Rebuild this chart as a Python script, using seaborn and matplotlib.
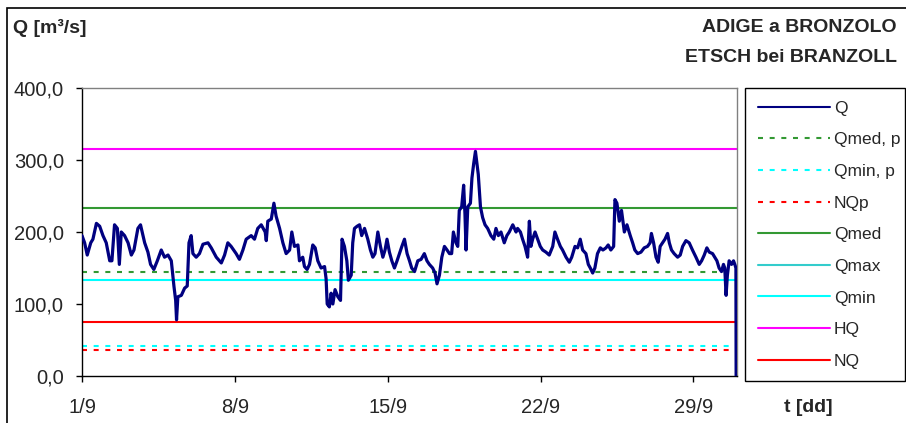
import numpy as np
import pandas as pd
import matplotlib
matplotlib.use("Agg")
import matplotlib.pyplot as plt
import seaborn as sns
from matplotlib.lines import Line2D
from matplotlib.patches import Rectangle

# --- data ---
days = [0.00, 0.12, 0.24, 0.40, 0.50, 0.66, 0.81, 0.96, 1.11, 1.27, 1.37, 1.49, 1.62, 1.71, 1.80, 1.95,
        2.11, 2.26, 2.38, 2.56, 2.68, 2.87, 3.02, 3.14, 3.29, 3.45, 3.63, 3.78, 3.94, 4.09, 4.21, 4.29,
        4.33, 4.39, 4.55, 4.70, 4.82, 4.90, 5.00, 5.08, 5.23, 5.38, 5.54, 5.77, 5.92, 6.15, 6.38, 6.53,
        6.68, 6.83, 7.06, 7.21, 7.37, 7.52, 7.75, 7.90, 8.05, 8.21, 8.39, 8.44, 8.51, 8.67, 8.79, 8.89,
        9.05, 9.20, 9.35, 9.51, 9.61, 9.73, 9.89, 9.96, 10.11, 10.19, 10.31, 10.42, 10.57, 10.68, 10.80,
        10.95, 11.11, 11.18, 11.23, 11.33, 11.41, 11.49, 11.59, 11.72, 11.84, 11.91, 12.02, 12.13, 12.20,
        12.33, 12.40, 12.48, 12.60, 12.71, 12.81, 12.94, 13.09, 13.21, 13.32, 13.42, 13.55, 13.67, 13.78,
        13.88, 13.97, 14.08, 14.19, 14.31, 14.43, 14.54, 14.65, 14.77, 14.89, 15.00, 15.10, 15.23, 15.38,
        15.53, 15.68, 15.80, 15.91, 16.06, 16.17, 16.26, 16.37, 16.48, 16.60, 16.72, 16.83, 16.93, 17.01,
        17.13, 17.21, 17.28, 17.39, 17.48, 17.54, 17.59, 17.67, 17.79, 17.86, 17.94, 18.02, 18.09, 18.15,
        18.25, 18.35, 18.46, 18.58, 18.73, 18.86, 18.96, 19.07, 19.19, 19.34, 19.46, 19.57, 19.73, 19.88,
        19.95, 20.08, 20.18, 20.29, 20.41, 20.49, 20.56, 20.64, 20.75, 20.87, 20.99, 21.10, 21.25, 21.40,
        21.56, 21.66, 21.78, 21.91, 22.01, 22.17, 22.32, 22.43, 22.58, 22.70, 22.82, 22.93, 23.08, 23.19,
        23.28, 23.39, 23.49, 23.61, 23.74, 23.86, 24.00, 24.10, 24.22, 24.35, 24.41, 24.50, 24.61, 24.71,
        24.84, 24.96, 25.11, 25.22, 25.32, 25.45, 25.60, 25.75, 25.90, 26.02, 26.08, 26.18, 26.29, 26.39,
        26.48, 26.59, 26.70, 26.82, 26.90, 27.00, 27.12, 27.28, 27.40, 27.51, 27.66, 27.81, 27.96, 28.12,
        28.27, 28.38, 28.50, 28.62, 28.73, 28.88, 28.98, 29.08, 29.18, 29.29, 29.38, 29.44, 29.50, 29.56,
        29.64, 29.75, 29.84, 29.90, 29.95, 29.96]
q = [195, 185, 168, 185, 190, 212, 208, 195, 185, 160, 160, 210, 205, 155, 200, 195,
     185, 168, 175, 205, 210, 185, 172, 155, 148, 160, 175, 165, 168, 160, 125, 105,
     78, 110, 112, 122, 125, 185, 195, 170, 165, 170, 183, 185, 178, 165, 157, 168,
     185, 180, 170, 162, 175, 190, 195, 190, 205, 210, 200, 188, 215, 218, 240, 222,
     205, 185, 170, 175, 200, 180, 182, 160, 165, 152, 148, 155, 182, 178, 160,
     150, 152, 135, 100, 96, 115, 100, 120, 110, 105, 190, 180, 160, 133,
     140, 185, 205, 208, 210, 195, 205, 190, 175, 165, 170, 200, 180, 165,
     175, 190, 172, 160, 150, 160, 170, 180, 190, 170, 160, 150, 145, 160,
     162, 170, 160, 155, 150, 143, 128, 140, 165, 180, 175, 170, 170, 200,
     185, 180, 230, 235, 265, 225, 175, 235, 240, 275, 295, 312, 295, 280,
     235, 220, 210, 205, 195, 190, 205, 195, 200, 185, 195, 200, 210, 200,
     205, 200, 190, 180, 165, 215, 180, 190, 200, 190, 180, 175, 172, 168,
     180, 200, 190, 180, 175, 165, 158, 165, 180, 178, 190, 175, 170, 155,
     150, 143, 150, 170, 178, 175, 178, 182, 175, 180, 245, 240, 215, 230,
     200, 210, 195, 185, 175, 170, 172, 178, 180, 185, 198, 185, 165, 158,
     180, 185, 190, 198, 185, 175, 170, 165, 168, 180, 188, 185, 175, 165,
     155, 160, 168, 178, 172, 170, 165, 160, 150, 145, 155, 150, 112, 140,
     160, 155, 160, 155, 150, 0]

ref_names = ['Qmed, p', 'Qmin, p', 'NQp', 'Qmed', 'Qmax', 'Qmin', 'HQ', 'NQ']
ref_values = [145, 42, 36, 233, None, 133, 315, 75]
ref_colors = ['#339933', '#00FFFF', '#FF0000', '#339933', '#33CCCC', '#00FFFF', '#FF00FF', '#FF0000']
ref_dashed = [True, True, True, False, False, False, False, False]

tick_days = [0, 7, 14, 21, 28]
tick_labels = ['1/9', '8/9', '15/9', '22/9', '29/9']
y_ticks = [0, 100, 200, 300, 400]

df = pd.DataFrame({'day': days, 'Q': q})

# --- plot ---
sns.set_style('white')
plt.rcParams['font.family'] = ['Liberation Sans', 'DejaVu Sans']

fig = plt.figure(figsize=(9.06, 4.23), dpi=100)
ax = fig.add_axes([82 / 906, 1 - 376 / 423, (737 - 82) / 906, (376 - 88) / 423])

dash = (0, (2.4, 3.2))
handles = []
for name, val, col, dashed in zip(ref_names, ref_values, ref_colors, ref_dashed):
    ls = dash if dashed else '-'
    if val is not None:
        ax.axhline(val, xmin=0, xmax=0.997 if dashed else 1, color=col, lw=1.5, ls=ls, zorder=2)
    handles.append(Line2D([], [], color=col, lw=1.5, ls=ls, label=name))

sns.lineplot(data=df, x='day', y='Q', ax=ax, color='#000080', lw=2.3, estimator=None,
             sort=False, zorder=3)
handles.insert(0, Line2D([], [], color='#000080', lw=1.5, label='Q'))

ax.set_xlim(0, 30)
ax.set_ylim(0, 400)
ax.set_xticks(tick_days)
ax.set_xticklabels(tick_labels)
ax.set_yticks(y_ticks)
ax.set_yticklabels([f'{v},0' for v in y_ticks])
ax.set_xlabel('')
ax.set_ylabel('')
ax.tick_params(axis='both', direction='out', length=4, width=1, color='black', labelsize=14.5)
ax.tick_params(axis='y', pad=9)
ax.tick_params(axis='x', pad=12)
ax.tick_params(left=True, bottom=True)
for s in ['left', 'bottom']:
    ax.spines[s].set_color('black')
    ax.spines[s].set_linewidth(1)
for s in ['top', 'right']:
    ax.spines[s].set_color('#808080')
    ax.spines[s].set_linewidth(1)

leg = fig.legend(handles=handles, loc='upper left',
                 bbox_to_anchor=(745 / 906, 1 - 88 / 423, (905 - 745) / 906, 0),
                 mode='expand', fontsize=12.5, frameon=True, fancybox=False, framealpha=1,
                 edgecolor='black', borderpad=0.72, labelspacing=0.95, handlelength=4.2,
                 handletextpad=0.2, borderaxespad=0)
leg.get_frame().set_linewidth(1)

fig.text(13 / 906, 1 - 28 / 423, 'Q [m³/s]', fontsize=14, fontweight='bold', va='center', ha='left')
fig.text(897 / 906, 1 - 27 / 423, 'ADIGE a BRONZOLO', fontsize=14, fontweight='bold', va='center', ha='right')
fig.text(897 / 906, 1 - 57 / 423, 'ETSCH bei BRANZOLL', fontsize=14, fontweight='bold', va='center', ha='right')
fig.text(808 / 906, 1 - 407 / 423, 't [dd]', fontsize=14, fontweight='bold', va='center', ha='center')

fig.patches.append(Rectangle((7 / 906, -0.1), 1.1, 1 - 8 / 423 + 0.1, transform=fig.transFigure,
                             fill=False, edgecolor='black', lw=1.2))

fig.savefig('out.png', dpi=100)
